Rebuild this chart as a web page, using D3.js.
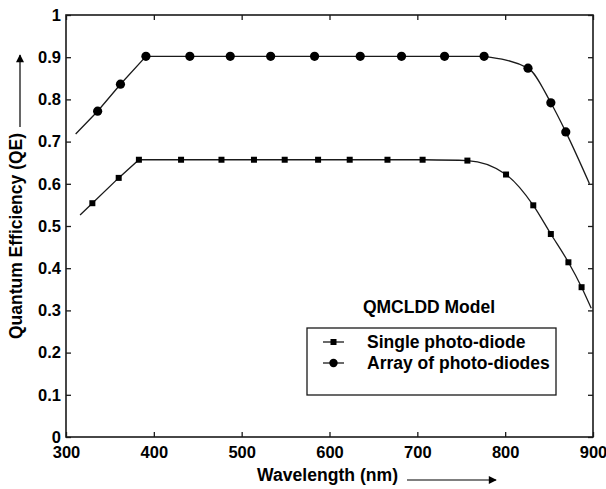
<!DOCTYPE html>
<html>
<head>
<meta charset="utf-8">
<script src="https://cdn.jsdelivr.net/npm/d3@7"></script>
<style>
  body { margin: 0; background: #fff; }
  svg text { font-family: "Liberation Sans", Arial, sans-serif; font-weight: bold; fill: #000; }
</style>
</head>
<body>
<div id="chart"></div>
<script>
// values
const xTicks = [300, 400, 500, 600, 700, 800, 900];
const yTicks = [0, 0.1, 0.2, 0.3, 0.4, 0.5, 0.6, 0.7, 0.8, 0.9, 1];

// array of photo-diodes (circles)
const arrayWl = [336, 362, 391, 441, 487, 533, 583, 635, 682, 731, 776, 826, 852, 869];
const arrayQe = [0.772, 0.836, 0.902, 0.902, 0.902, 0.902, 0.902, 0.902, 0.902, 0.902, 0.902, 0.874, 0.792, 0.723];
const arrayEnds = [[311, 0.718], [896, 0.600]];
const arrayKnee = 10; // curve becomes smooth from this marker on

// single photo-diode (squares)
const singleWl = [330, 360, 383, 431, 477, 514, 549, 587, 623, 666, 706, 757, 801, 832, 852, 872, 887];
const singleQe = [0.554, 0.614, 0.657, 0.657, 0.657, 0.657, 0.657, 0.657, 0.657, 0.657, 0.657, 0.655, 0.622, 0.549, 0.481, 0.414, 0.355];
const singleEnds = [[316, 0.526], [898, 0.305]];
const singleKnee = 10;

const W = 606, H = 489;
const m = {left: 66, right: 13, top: 15, bottom: 52};

const svg = d3.select("#chart").append("svg").attr("width", W).attr("height", H);

const x = d3.scaleLinear().domain([300, 900]).range([m.left, W - m.right]);
const y = d3.scaleLinear().domain([0, 1]).range([H - m.bottom, m.top]);

const ink = "#1a1a1a";

// frame with inward ticks on all four sides
const fmt = d => d === 0 || d === 1 ? d3.format("d")(d) : d3.format(".1f")(d);
const styleAxis = g => {
  g.select(".domain").remove();
  g.selectAll("line").attr("stroke", ink).attr("stroke-width", 1.3);
  g.selectAll("text").style("font-size", "16.5px");
};
svg.append("g").attr("transform", `translate(0,${y(0)})`)
  .call(d3.axisBottom(x).tickValues(xTicks).tickSizeInner(-5).tickSizeOuter(0).tickPadding(9))
  .call(styleAxis);
svg.append("g").attr("transform", `translate(${x(300)},0)`)
  .call(d3.axisLeft(y).tickValues(yTicks).tickFormat(fmt).tickSizeInner(-5).tickSizeOuter(0).tickPadding(5))
  .call(styleAxis);
svg.append("g").attr("transform", `translate(0,${y(1)})`)
  .call(d3.axisTop(x).tickValues(xTicks).tickSizeInner(-5).tickSizeOuter(0).tickFormat(""))
  .call(styleAxis);
svg.append("g").attr("transform", `translate(${x(900)},0)`)
  .call(d3.axisRight(y).tickValues(yTicks).tickSizeInner(-5).tickSizeOuter(0).tickFormat(""))
  .call(styleAxis);
svg.append("rect")
  .attr("x", x(300)).attr("y", y(1))
  .attr("width", x(900) - x(300)).attr("height", y(0) - y(1))
  .attr("fill", "none").attr("stroke", ink).attr("stroke-width", 1.6);

// curves: straight rise + plateau, smooth roll-off
function drawCurve(wl, qe, ends, knee) {
  const pts = wl.map((w, i) => [w, qe[i]]);
  const all = [ends[0], ...pts, ends[1]];
  const k = knee + 1;
  const straight = d3.line().x(d => x(d[0])).y(d => y(d[1]));
  const smooth = d3.line().x(d => x(d[0])).y(d => y(d[1])).curve(d3.curveMonotoneX);
  svg.append("path").attr("d", straight(all.slice(0, k + 1)))
    .attr("fill", "none").attr("stroke", ink).attr("stroke-width", 1.3);
  svg.append("path").attr("d", smooth(all.slice(k)))
    .attr("fill", "none").attr("stroke", ink).attr("stroke-width", 1.3);
  return pts;
}

const singlePts = drawCurve(singleWl, singleQe, singleEnds, singleKnee);
const arrayPts = drawCurve(arrayWl, arrayQe, arrayEnds, arrayKnee);

const sq = 6;
svg.append("g").selectAll("rect").data(singlePts).join("rect")
  .attr("x", d => x(d[0]) - sq / 2).attr("y", d => y(d[1]) - sq / 2)
  .attr("width", sq).attr("height", sq).attr("fill", "#000");
svg.append("g").selectAll("circle").data(arrayPts).join("circle")
  .attr("cx", d => x(d[0])).attr("cy", d => y(d[1])).attr("r", 4.6).attr("fill", "#000");

// axis titles with arrows
svg.append("defs").append("marker")
  .attr("id", "head").attr("viewBox", "0 0 10 10").attr("refX", 9).attr("refY", 5)
  .attr("markerWidth", 10).attr("markerHeight", 8).attr("markerUnits", "userSpaceOnUse")
  .attr("orient", "auto")
  .append("path").attr("d", "M0,0L10,5L0,10Z").attr("fill", "#000");

svg.append("text").attr("x", 257).attr("y", 481)
  .attr("textLength", 141).attr("lengthAdjust", "spacingAndGlyphs")
  .style("font-size", "17.5px").text("Wavelength (nm)");
svg.append("line").attr("x1", 407).attr("y1", 480).attr("x2", 496).attr("y2", 480)
  .attr("stroke", "#000").attr("stroke-width", 1.2).attr("marker-end", "url(#head)");

svg.append("text").attr("transform", "translate(22,236) rotate(-90)").attr("text-anchor", "middle")
  .style("font-size", "17.5px").text("Quantum Efficiency (QE)");
svg.append("line").attr("x1", 20).attr("y1", 127).attr("x2", 20).attr("y2", 55)
  .attr("stroke", "#000").attr("stroke-width", 1.2).attr("marker-end", "url(#head)");

// legend
const legend = svg.append("g");
legend.append("text").attr("x", 429).attr("y", 313).attr("text-anchor", "middle")
  .style("font-size", "17.5px").text("QMCLDD Model");
legend.append("rect").attr("x", 307).attr("y", 328).attr("width", 249).attr("height", 67)
  .attr("fill", "#fff").attr("stroke", ink).attr("stroke-width", 1.3);
const items = [
  {label: "Single photo-diode", shape: "square"},
  {label: "Array of photo-diodes", shape: "circle"}
];
items.forEach((it, i) => {
  const cy = 342 + i * 21;
  legend.append("line").attr("x1", 323).attr("x2", 344).attr("y1", cy).attr("y2", cy)
    .attr("stroke", ink).attr("stroke-width", 1.3);
  if (it.shape === "square") {
    legend.append("rect").attr("x", 333.5 - 3).attr("y", cy - 3).attr("width", 6).attr("height", 6).attr("fill", "#000");
  } else {
    legend.append("circle").attr("cx", 333.5).attr("cy", cy).attr("r", 4.2).attr("fill", "#000");
  }
  legend.append("text").attr("x", 367).attr("y", cy + 6).style("font-size", "17.5px").text(it.label);
});
</script>
</body>
</html>
